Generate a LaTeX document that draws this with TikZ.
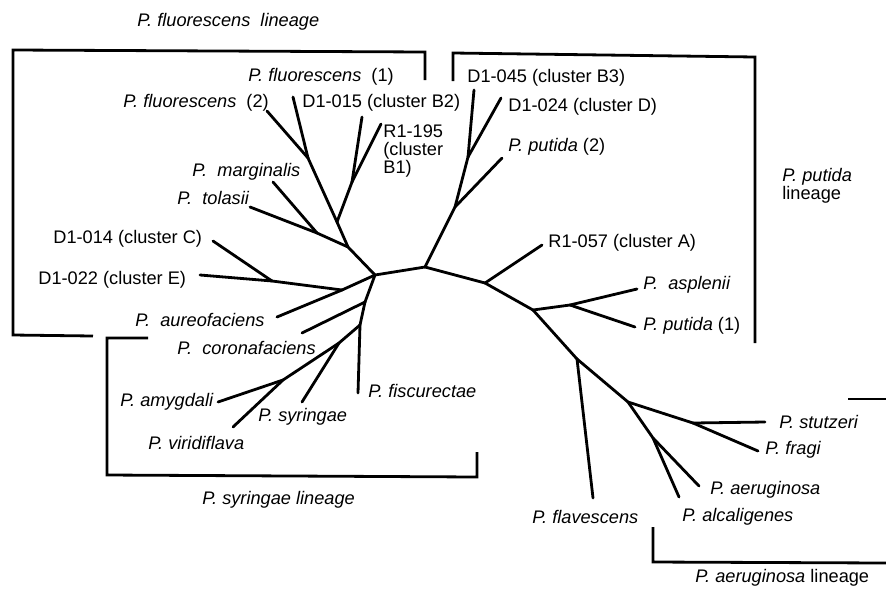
\documentclass[tikz,border=0pt]{standalone}
\usepackage{fontspec}
\setmainfont{Liberation Sans}
\tikzset{
  branch/.style  = {line width=1.4pt,line cap=round,line join=round},
  bracket/.style = {line width=1.4pt,line join=miter},
  taxon/.style   = {inner sep=0pt,anchor=west,font=\fontsize{9.1}{9}\selectfont}
}
\newcommand{\psp}[1]{\textit{P.\ #1}}
\newcommand{\pspw}[1]{\textit{P.\ \ #1}}

\begin{document}
\begin{tikzpicture}[x=0.5pt,y=-0.5pt]
  \useasboundingbox (0,0) rectangle (886,595);
  % inner nodes
  \coordinate (c1)   at (375,275);
  \coordinate (c2)   at (425,267);
  \coordinate (jA)   at (348,247);
  \coordinate (jB0)  at (337,222);
  \coordinate (jF)   at (308,158);
  \coordinate (jB)   at (352,182);
  \coordinate (jMT)  at (317,233);
  \coordinate (jE)   at (342,290);
  \coordinate (jCE)  at (272,281);
  \coordinate (jCor) at (365,302);
  \coordinate (jSyr) at (360,325);
  \coordinate (jS2)  at (339,343);
  \coordinate (jAV)  at (283,380);
  \coordinate (jP2)  at (455,207);
  \coordinate (jBD)  at (468,157);
  \coordinate (jA57) at (485,283);
  \coordinate (jR)   at (533,310);
  \coordinate (jAP)  at (570,305);
  \coordinate (jFl)  at (577,359);
  \coordinate (jSt)  at (628,402);
  \coordinate (jSF)  at (693,423);
  \coordinate (jAA)  at (653,438);
  % leaf ends
  \coordinate (tF1)  at (293,97);
  \coordinate (tF2)  at (267,111);
  \coordinate (tB2)  at (362,117);
  \coordinate (tB1)  at (381,124);
  \coordinate (tMar) at (273,182);
  \coordinate (tTol) at (250,207);
  \coordinate (tC)   at (213,241);
  \coordinate (tE)   at (200,275);
  \coordinate (tAur) at (277,317);
  \coordinate (tCor) at (302,333);
  \coordinate (tFis) at (358,393);
  \coordinate (tSyr) at (302,402);
  \coordinate (tAmy) at (218,402);
  \coordinate (tVir) at (233,427);
  \coordinate (tB3)  at (474,90);
  \coordinate (tD)   at (501,98);
  \coordinate (tP2)  at (502,158);
  \coordinate (tA)   at (542,245);
  \coordinate (tAsp) at (637,289);
  \coordinate (tP1)  at (635,327);
  \coordinate (tFl)  at (593,498);
  \coordinate (tSt)  at (765,422);
  \coordinate (tFr)  at (758,451);
  \coordinate (tAe)  at (699,486);
  \coordinate (tAl)  at (679,497);
  % branches
  \foreach \a/\b in {c1/c2,c1/jA,jA/jB0,jB0/jF,jF/tF1,jF/tF2,jB0/jB,jB/tB2,jB/tB1,
      jA/jMT,jMT/tMar,jMT/tTol,c1/jE,jE/jCE,jCE/tC,jCE/tE,jE/tAur,
      c1/jCor,jCor/tCor,jCor/jSyr,jSyr/tFis,jSyr/jS2,jS2/tSyr,jS2/jAV,jAV/tAmy,jAV/tVir,
      c2/jP2,jP2/tP2,jP2/jBD,jBD/tB3,jBD/tD,c2/jA57,jA57/tA,jA57/jR,jR/jAP,jAP/tAsp,jAP/tP1,
      jR/jFl,jFl/tFl,jFl/jSt,jSt/jSF,jSF/tSt,jSF/tFr,jSt/jAA,jAA/tAe,jAA/tAl}
    \draw[branch] (\a) -- (\b);
  % lineage brackets
  \draw[bracket] (425,80) -- (425,52) -- (13,50) -- (13,335) -- (93,336);
  \draw[bracket] (148,338) -- (107,338) -- (107,475) -- (477,477) -- (477,452);
  \draw[bracket] (453,81) -- (453,53) -- (755,57) -- (755,343);
  \draw[bracket] (653,527) -- (653,562) -- (886,563);
  \draw[bracket] (848,399) -- (886,399);
  % taxa
  \node[taxon] (lF1)  at (248,77)  {\textit{P. fluorescens}\ \ (1)};
  \node[taxon] (lF2)  at (123,103) {\textit{P. fluorescens}\ \ (2)};
  \node[taxon] (lB2)  at (302,103) {D1-015 (cluster B2)};
  \node[taxon,anchor=north west,align=left] (lB1) at (383,124) {R1-195\\(cluster\\B1)};
  \node[taxon] (lMar) at (192,172) {\pspw{marginalis}};
  \node[taxon] (lTol) at (177,198) {\pspw{tolasii}};
  \node[taxon] (lC)   at (53,239)  {D1-014 (cluster C)};
  \node[taxon] (lE)   at (38,280)  {D1-022 (cluster E)};
  \node[taxon] (lAur) at (135,320) {\pspw{aureofaciens}};
  \node[taxon] (lCor) at (177,348) {\pspw{coronafaciens}};
  \node[taxon] (lAmy) at (120,402) {\psp{amygdali}};
  \node[taxon] (lSyr) at (258,417) {\psp{syringae}};
  \node[taxon] (lVir) at (148,443) {\psp{viridiflava}};
  \node[taxon] (lFis) at (368,391) {\psp{fiscurectae}};
  \node[taxon] (lB3)  at (467,78)  {D1-045 (cluster B3)};
  \node[taxon] (lD)   at (508,107) {D1-024 (cluster D)};
  \node[taxon] (lP2)  at (508,147) {\psp{putida} (2)};
  \node[taxon] (lA)   at (548,243) {R1-057 (cluster A)};
  \node[taxon] (lAsp) at (643,285) {\pspw{asplenii}};
  \node[taxon] (lP1)  at (643,326) {\psp{putida} (1)};
  \node[taxon] (lSt)  at (779,422) {\psp{stutzeri}};
  \node[taxon] (lFr)  at (765,450) {\psp{fragi}};
  \node[taxon] (lAe)  at (710,490) {\psp{aeruginosa}};
  \node[taxon] (lAl)  at (682,517) {\psp{alcaligenes}};
  \node[taxon] (lFl)  at (532,517) {\psp{flavescens}};
  % lineage names
  \node[taxon] (linF) at (137,22)  {\textit{P. fluorescens\ \ lineage}};
  \node[taxon] (linS) at (202,500) {\textit{P. syringae lineage}};
  \node[taxon,anchor=north west,align=left] (linP) at (782,168) {\psp{putida}\\lineage};
  \node[taxon] (linA) at (695,578) {\psp{aeruginosa} lineage};
\end{tikzpicture}
\end{document}
